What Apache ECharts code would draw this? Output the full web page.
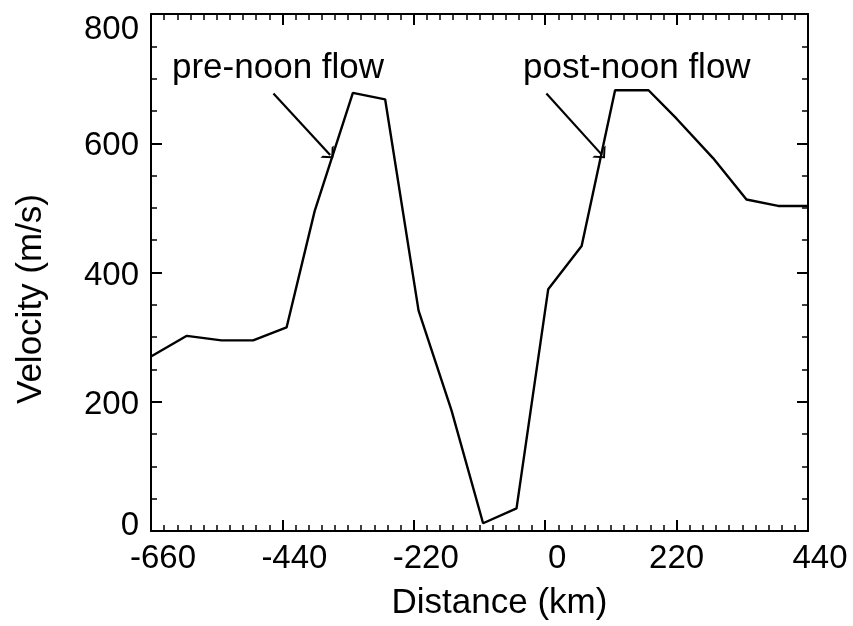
<!DOCTYPE html>
<html>
<head>
<meta charset="utf-8">
<title>Velocity vs Distance</title>
<script src="https://cdn.jsdelivr.net/npm/echarts@6.0.0/dist/echarts.min.js"></script>
<style>
html, body { margin: 0; padding: 0; background: #fff; }
#chart { width: 853px; height: 626px; }
</style>
</head>
<body>
<div id="chart"></div>
<script>
// distance (km) and flow velocity (m/s)
const distance = [-660, -600, -542, -489, -433, -386, -322, -268, -212, -157, -104, -48, 5, 61, 117, 173, 220, 281, 337, 390, 440]
const velocity = [270, 302, 295, 295, 315, 495, 678, 668, 341, 187, 12, 35, 374, 441, 682, 682, 638, 577, 513, 503, 503]

const xTicks = [-660, -440, -220, 0, 220, 440]
const yTicks = [0, 200, 400, 600, 800]

// annotation arrows, start -> end in data units
const preNoonArrow = [[-455, 677], [-360, 582]]
const postNoonArrow = [[2, 677], [95, 582]]
const noteTexts = ['pre-noon flow', 'post-noon flow']

const FONT = '"Liberation Sans", Arial, Helvetica, sans-serif'
// open arrow head, tip at top
const arrowHead = 'path://M0,9 L9,0 L18,9 L15.2,9 L9,2.8 L2.8,9 Z'

function frameAxis (opts, minorSplit) {
  return Object.assign({
    type: 'value',
    axisLine: { show: true, onZero: false, lineStyle: { color: '#000', width: 2 } },
    axisTick: { show: true, inside: true, length: 11, lineStyle: { color: '#000', width: 2 } },
    minorTick: { show: true, splitNumber: minorSplit, length: 6, lineStyle: { color: '#000', width: 1.5 } },
    splitLine: { show: false },
    minorSplitLine: { show: false }
  }, opts)
}

const xRange = {
  min: xTicks[0],
  max: xTicks[xTicks.length - 1],
  interval: xTicks[1] - xTicks[0]
}
const yRange = {
  min: yTicks[0],
  max: yTicks[yTicks.length - 1],
  interval: yTicks[1] - yTicks[0]
}

const tickFont = { fontSize: 33, fontFamily: FONT, color: '#000' }

const chart = echarts.init(document.getElementById('chart'))
chart.setOption({
  animation: false,
  backgroundColor: '#fff',
  grid: { left: 151, right: 45, top: 14, bottom: 93 },
  xAxis: [
    frameAxis(Object.assign({
      position: 'bottom',
      name: 'Distance (km)',
      nameLocation: 'middle',
      nameGap: 55,
      nameTextStyle: { fontSize: 35, fontFamily: FONT, color: '#000', padding: [0, 0, 0, 40] },
      axisLabel: {
        margin: 11,
        formatter: v => (v === 220 ? '{c|' + v + '}' : '{s|' + v + '}'),
        rich: {
          s: Object.assign({ padding: [0, 0, 0, 24] }, tickFont),
          c: Object.assign({}, tickFont)
        }
      }
    }, xRange), 10),
    frameAxis(Object.assign({
      position: 'top',
      axisLabel: { show: false }
    }, xRange), 10)
  ],
  yAxis: [
    frameAxis(Object.assign({
      position: 'left',
      name: 'Velocity (m/s)',
      nameLocation: 'middle',
      nameGap: 102,
      nameTextStyle: { fontSize: 35, fontFamily: FONT, color: '#000', padding: [0, 53, 0, 0] },
      axisLabel: {
        margin: 12,
        formatter: v => {
          if (v === yTicks[0]) return '{lo|' + v + '}'
          if (v === yTicks[yTicks.length - 1]) return '{hi|' + v + '}'
          return '{n|' + v + '}'
        },
        rich: {
          lo: Object.assign({ padding: [0, 0, 10, 0] }, tickFont),
          hi: Object.assign({ padding: [32, 0, 0, 0] }, tickFont),
          n: Object.assign({ padding: [6, 0, 0, 0] }, tickFont)
        }
      }
    }, yRange), 4),
    frameAxis(Object.assign({
      position: 'right',
      axisLabel: { show: false }
    }, yRange), 4)
  ],
  graphic: [
    { type: 'text', left: 172, top: 51, style: { text: noteTexts[0], fontSize: 35, fontFamily: FONT, fill: '#000' } },
    { type: 'text', left: 523, top: 51, style: { text: noteTexts[1], fontSize: 35, fontFamily: FONT, fill: '#000' } }
  ],
  series: [
    {
      type: 'line',
      data: distance.map((d, i) => [d, velocity[i]]),
      symbol: 'none',
      lineStyle: { color: '#000', width: 2.4 },
      markLine: {
        silent: true,
        symbol: ['none', arrowHead],
        symbolSize: [18, 9],
        label: { show: false },
        lineStyle: { color: '#000', width: 2.2, type: 'solid' },
        data: [
          [{ coord: preNoonArrow[0] }, { coord: preNoonArrow[1] }],
          [{ coord: postNoonArrow[0] }, { coord: postNoonArrow[1] }]
        ]
      }
    }
  ]
})
</script>
</body>
</html>
